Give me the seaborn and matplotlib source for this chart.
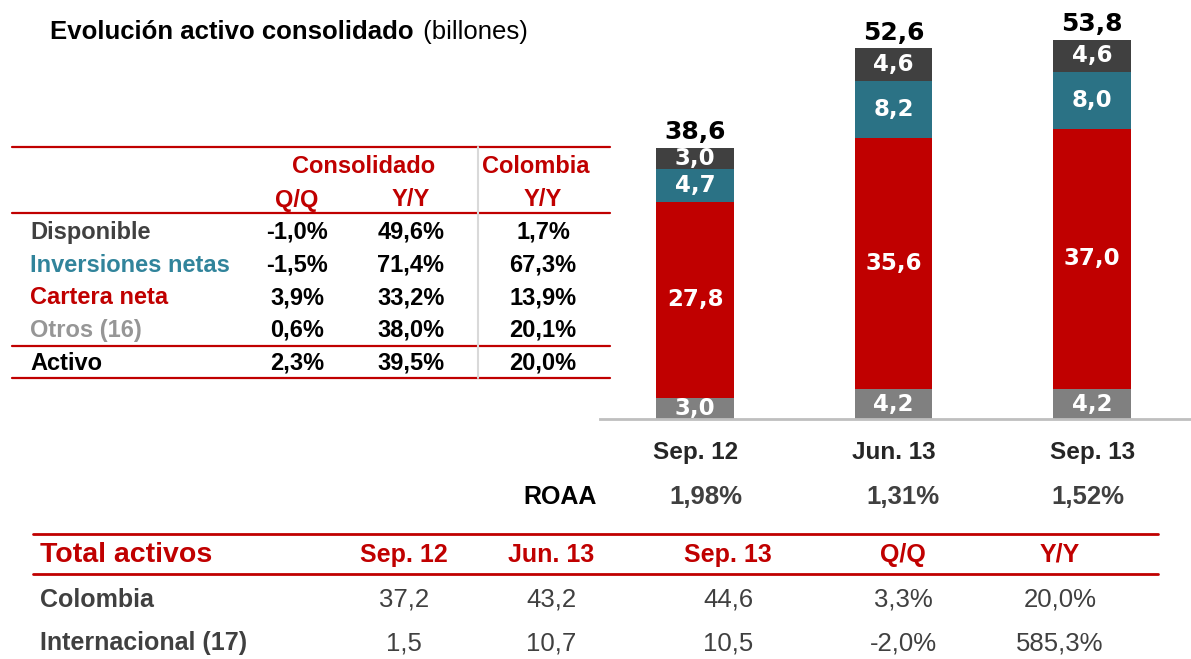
import matplotlib
matplotlib.use("Agg")
import pandas as pd
import seaborn as sns
from matplotlib import pyplot as plt
from matplotlib.lines import Line2D

# bar chart data (billones)
periods = ["Sep. 12", "Jun. 13", "Sep. 13"]
otros = [3.0, 4.2, 4.2]
cartera = [27.8, 35.6, 37.0]
inversiones = [4.7, 8.2, 8.0]
disponible = [3.0, 4.6, 4.6]
totals = [38.6, 52.6, 53.8]
roaa = [1.98, 1.31, 1.52]

# growth table
rubros = ["Disponible", "Inversiones netas", "Cartera neta", "Otros (16)", "Activo"]
rubro_colors = ["#404040", "#31849B", "#C00000", "#969696", "#000000"]
cons_qq = [-1.0, -1.5, 3.9, 0.6, 2.3]
cons_yy = [49.6, 71.4, 33.2, 38.0, 39.5]
col_yy = [1.7, 67.3, 13.9, 20.1, 20.0]

# total activos table
tot_cols = ["Sep. 12", "Jun. 13", "Sep. 13", "Q/Q", "Y/Y"]
colombia = [37.2, 43.2, 44.6]
colombia_chg = [3.3, 20.0]
internacional = [1.5, 10.7, 10.5]
internacional_chg = [-2.0, 585.3]

RED = "#C00000"
W, H = 1191, 659


def num(v, dec=1):
    return f"{v:.{dec}f}".replace(".", ",")


def pct(v, dec=1):
    return num(v, dec) + "%"


sns.set_style("white")
plt.rcParams["font.family"] = ["Liberation Sans", "DejaVu Sans"]

fig = plt.figure(figsize=(W / 100, H / 100), dpi=100)


def put(x, y, s, **kw):
    return fig.text(x / W, 1 - y / H, s, **kw)


def hline(y, x0, x1, color=RED, lw=1.6):
    fig.add_artist(Line2D([x0 / W, x1 / W], [1 - y / H, 1 - y / H],
                          color=color, lw=lw, transform=fig.transFigure))


# ---- stacked bars ----
ax = fig.add_axes([600 / W, (H - 419) / H, 591 / W, 399 / H])
df = pd.DataFrame({"periodo": periods, "otros": otros, "cartera": cartera,
                   "inversiones": inversiones, "disponible": disponible})
df["c1"] = df["otros"]
df["c2"] = df["c1"] + df["cartera"]
df["c3"] = df["c2"] + df["inversiones"]
df["c4"] = df["c3"] + df["disponible"]

layers = [("c4", "#404040"), ("c3", "#2B7285"), ("c2", RED), ("c1", "#808080")]
for col, color in layers:
    sns.barplot(data=df, x="periodo", y=col, color=color, width=0.39,
                saturation=1, errorbar=None, linewidth=0, ax=ax)

ax.set_xlim(-0.479, 2.498)
ax.set_ylim(0, 56.6)
ax.set_xlabel("")
ax.set_ylabel("")
ax.set_yticks([])
for s in ["top", "left", "right"]:
    ax.spines[s].set_visible(False)
ax.spines["bottom"].set_color("#BFBFBF")
ax.spines["bottom"].set_linewidth(2)
ax.tick_params(axis="x", length=0, pad=16, labelsize=17.5, labelcolor="#262626")
for lab in ax.get_xticklabels():
    lab.set_fontweight("bold")

for i in range(len(periods)):
    bottoms = [0, df["c1"][i], df["c2"][i], df["c3"][i]]
    vals = [otros[i], cartera[i], inversiones[i], disponible[i]]
    for b, v in zip(bottoms, vals):
        ax.text(i, b + v / 2, num(v), ha="center", va="center", color="white",
                fontsize=16.5, fontweight="bold", family="DejaVu Sans", clip_on=True)
    ax.text(i, df["c4"][i] + 0.5, num(totals[i]), ha="center", va="bottom",
            color="black", fontsize=18, fontweight="bold", family="DejaVu Sans")

# ROAA row
put(597, 497, "ROAA", ha="right", va="center", fontsize=18, fontweight="bold", color="black")
for xc, v in zip([706, 903, 1088], roaa):
    put(xc, 497, pct(v, 2), ha="center", va="center", fontsize=18.5,
        fontweight="bold", color="#404040")

# ---- title ----
t1 = put(50, 39, "Evolución activo consolidado", ha="left", va="baseline",
         fontsize=18.5, fontweight="bold", color="black")
fig.canvas.draw()
bb = t1.get_window_extent()
put(bb.x1 + 2, 39, " (billones)", ha="left", va="baseline", fontsize=18.5, color="black")

# ---- growth table ----
for y in [147, 213, 346, 378]:
    hline(y, 12, 610)
fig.add_artist(Line2D([478 / W, 478 / W], [1 - 147 / H, 1 - 378 / H],
                      color="#D9D9D9", lw=1.5, transform=fig.transFigure))
hdr = dict(ha="center", va="center", fontsize=17, fontweight="bold", color=RED)
put(364, 167, "Consolidado", **hdr)
put(536, 167, "Colombia", **hdr)
put(297, 200, "Q/Q", **hdr)
put(411, 200, "Y/Y", **hdr)
put(543, 200, "Y/Y", **hdr)
row_y = [232, 265, 298, 330, 363]
for y, name, c, a, b, d in zip(row_y, rubros, rubro_colors, cons_qq, cons_yy, col_yy):
    put(30, y, name, ha="left", va="center", fontsize=17, fontweight="bold", color=c)
    for xc, v in zip([297, 411, 543], [a, b, d]):
        put(xc, y, pct(v), ha="center", va="center", fontsize=17,
            fontweight="bold", color="black")

# ---- total activos table ----
hline(534, 33, 1158, lw=2)
hline(574, 33, 1158, lw=2)
col_x = [404, 551, 728, 903, 1060]
put(40, 555, "Total activos", ha="left", va="center", fontsize=20.5,
    fontweight="bold", color=RED)
for xc, name in zip(col_x, tot_cols):
    put(xc, 555, name, ha="center", va="center", fontsize=18, fontweight="bold", color=RED)

rows = [("Colombia", colombia, colombia_chg, 600),
        ("Internacional (17)", internacional, internacional_chg, 643)]
for name, vals, chg, y in rows:
    put(40, y, name, ha="left", va="center", fontsize=18, fontweight="bold", color="#404040")
    texts = [num(v) for v in vals] + [pct(v) for v in chg]
    for xc, s in zip(col_x, texts):
        put(xc, y, s, ha="center", va="center", fontsize=18.5, color="#404040")

fig.savefig("out.png", dpi=100, facecolor="white")
